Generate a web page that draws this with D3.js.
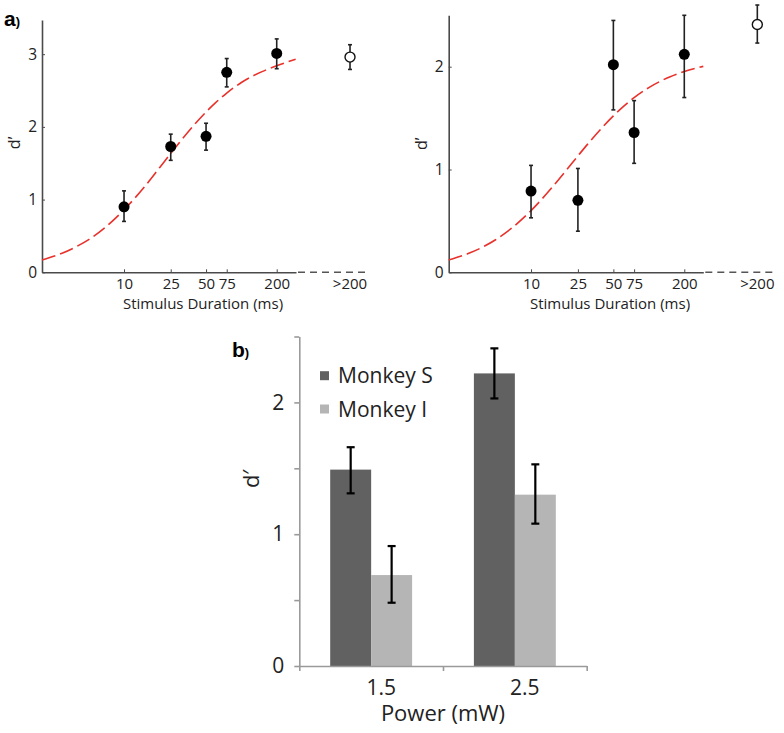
<!DOCTYPE html>
<html>
<head>
<meta charset="utf-8">
<script src="https://cdn.jsdelivr.net/npm/d3@7"></script>
<style>
  html, body { margin: 0; padding: 0; background: #fff; }
  svg { display: block; }
  text { font-family: "Open Sans", sans-serif; }
</style>
</head>
<body>
<svg id="chart" width="784" height="733"></svg>
<script>
// ---------------- DATA ----------------
const durations = [10, 25, 50, 75, 200];
const durationLabels = ["10", "25", "50", "75", "200"];
const overflowLabel = ">200";

// Panel a (left)
const dprimeLeft = [0.90, 1.73, 1.87, 2.75, 3.01];
const errLoLeft  = [0.70, 1.54, 1.68, 2.55, 2.80];
const errHiLeft  = [1.12, 1.90, 2.05, 2.94, 3.21];
const overLeft = [2.96];
const overLoLeft = [2.79];
const overHiLeft = [3.13];

// Panel a (right)
const dprimeRight = [0.79, 0.70, 2.02, 1.36, 2.12];
const errLoRight  = [0.53, 0.40, 1.58, 1.06, 1.70];
const errHiRight  = [1.04, 1.01, 2.45, 1.67, 2.50];
const overRight = [2.41];
const overLoRight = [2.23];
const overHiRight = [2.60];

// Fitted curves
const fitDurations = [2, 3, 4, 5, 7, 10, 15, 20, 25, 30, 40, 50, 60, 75, 100, 150, 200, 290];
const fitLeft  = [0.17, 0.265, 0.36, 0.45, 0.625, 0.86, 1.18, 1.435, 1.635, 1.795, 2.035, 2.205, 2.33, 2.465, 2.61, 2.76, 2.84, 2.93];
const fitRight = [0.12, 0.187, 0.253, 0.317, 0.438, 0.60, 0.822, 0.995, 1.132, 1.242, 1.406, 1.522, 1.607, 1.699, 1.797, 1.90, 1.953, 2.003];

const yTicksLeft = [0, 1, 2, 3];
const yTicksRight = [0, 1, 2];

// Panel b
const powers = ["1.5", "2.5"];
const seriesNames = ["Monkey S", "Monkey I"];
const monkeyS = [1.49, 2.22];
const monkeyI = [0.69, 1.30];
const monkeySLo = [1.31, 2.03];
const monkeySHi = [1.66, 2.41];
const monkeyILo = [0.48, 1.08];
const monkeyIHi = [0.91, 1.53];
const barTicks = [0, 0.5, 1, 1.5, 2, 2.5];
const barColors = ["#616161", "#b5b5b5"];

// ---------------- DRAW ----------------
const svg = d3.select("#chart");

function scatterPanel(cfg) {
  const x = d3.scaleLog().domain(cfg.xDomain).range(cfg.xRange);
  const y = d3.scaleLinear().domain(cfg.yDomain).range(cfg.yRange);
  const g = svg.append("g");
  const axisColor = "#4a4a4a";
  const textColor = "#222";
  const y0 = y(0);

  // x axis (ticks inward)
  const xa = g.append("g").attr("transform", `translate(0,${y0})`)
    .call(d3.axisBottom(x).tickValues(durations).tickFormat((d, i) => durationLabels[i])
      .tickSizeInner(-3).tickSizeOuter(0).tickPadding(6));
  xa.select(".domain").attr("stroke", axisColor).attr("stroke-width", 1.6);
  xa.selectAll(".tick line").attr("stroke", axisColor).attr("stroke-width", 1);
  xa.selectAll(".tick text").attr("fill", textColor).style("font-size", "15px");

  // dashed extension
  const xEnd = cfg.xRange[1];
  const extLen = 74;
  g.append("line").attr("x1", xEnd + 2).attr("x2", xEnd + extLen)
    .attr("y1", y0).attr("y2", y0)
    .attr("stroke", "#555").attr("stroke-width", 1.6).attr("stroke-dasharray", "7,5");
  const xOver = xEnd + extLen * 0.73;
  g.append("text").attr("x", xOver).attr("y", y0 + 6).attr("dy", "0.71em")
    .attr("text-anchor", "middle").attr("fill", textColor).style("font-size", "15px")
    .text(overflowLabel);

  // y axis (ticks inward)
  const ya = g.append("g").attr("transform", `translate(${cfg.xRange[0]},0)`)
    .call(d3.axisLeft(y).tickValues(cfg.yTicks).tickFormat(d3.format("d"))
      .tickSizeInner(-3).tickSizeOuter(0).tickPadding(5));
  ya.select(".domain").attr("stroke", axisColor).attr("stroke-width", 1.6);
  ya.selectAll(".tick line").attr("stroke", axisColor).attr("stroke-width", 1);
  ya.selectAll(".tick text").attr("fill", textColor).style("font-size", "15.5px");

  // axis titles
  g.append("text")
    .attr("x", (cfg.xRange[0] + cfg.xRange[1]) / 2 + 34).attr("y", y0 + 37)
    .attr("text-anchor", "middle").attr("fill", textColor).style("font-size", "15px")
    .text("Stimulus Duration (ms)");
  g.append("text")
    .attr("transform", `translate(${cfg.xRange[0] - 22},${y(cfg.yLabelAt)}) rotate(-90)`)
    .attr("text-anchor", "middle").attr("fill", textColor).style("font-size", "16px")
    .text("d\u2019");

  // fitted curve
  const line = d3.line().x((d, i) => x(fitDurations[i])).y(d => y(d)).curve(d3.curveMonotoneX);
  g.append("path").datum(cfg.fit).attr("d", line)
    .attr("fill", "none").attr("stroke", "#e8312b").attr("stroke-width", 1.6)
    .attr("stroke-dasharray", "14,5");

  // error bars
  const eb = g.append("g").attr("stroke", "#222").attr("stroke-width", 1.6);
  durations.forEach((d, i) => {
    const cx = x(d);
    eb.append("line").attr("x1", cx).attr("x2", cx).attr("y1", y(cfg.lo[i])).attr("y2", y(cfg.hi[i]));
    eb.append("line").attr("x1", cx - 2).attr("x2", cx + 2).attr("y1", y(cfg.lo[i])).attr("y2", y(cfg.lo[i]));
    eb.append("line").attr("x1", cx - 2).attr("x2", cx + 2).attr("y1", y(cfg.hi[i])).attr("y2", y(cfg.hi[i]));
  });
  cfg.over.forEach((v, i) => {
    eb.append("line").attr("x1", xOver).attr("x2", xOver).attr("y1", y(cfg.overLo[i])).attr("y2", y(cfg.overHi[i]));
    eb.append("line").attr("x1", xOver - 2).attr("x2", xOver + 2).attr("y1", y(cfg.overLo[i])).attr("y2", y(cfg.overLo[i]));
    eb.append("line").attr("x1", xOver - 2).attr("x2", xOver + 2).attr("y1", y(cfg.overHi[i])).attr("y2", y(cfg.overHi[i]));
  });

  // points
  g.selectAll("circle.pt").data(cfg.values).join("circle")
    .attr("class", "pt").attr("cx", (d, i) => x(durations[i])).attr("cy", d => y(d))
    .attr("r", 5.5).attr("fill", "#000");
  g.selectAll("circle.ov").data(cfg.over).join("circle")
    .attr("class", "ov").attr("cx", xOver).attr("cy", d => y(d))
    .attr("r", 5).attr("fill", "#fff").attr("stroke", "#111").attr("stroke-width", 1.4);
}

scatterPanel({
  xDomain: [2, 292], xRange: [42, 296],
  yDomain: [0, 3.47], yRange: [272.3, 20],
  yTicks: yTicksLeft, yLabelAt: 1.78,
  values: dprimeLeft, lo: errLoLeft, hi: errHiLeft,
  over: overLeft, overLo: overLoLeft, overHi: overHiLeft,
  fit: fitLeft
});
scatterPanel({
  xDomain: [2, 290], xRange: [448.7, 703.3],
  yDomain: [0, 2.5], yRange: [272.3, 15.3],
  yTicks: yTicksRight, yLabelAt: 1.25,
  values: dprimeRight, lo: errLoRight, hi: errHiRight,
  over: overRight, overLo: overLoRight, overHi: overHiRight,
  fit: fitRight
});

// panel label a)
const la = svg.append("text").attr("x", 4).attr("y", 26).attr("fill", "#000")
  .style("font-family", "Liberation Sans, Arial, sans-serif");
la.append("tspan").style("font-size", "21px").style("font-weight", "bold").text("a");
la.append("tspan").style("font-size", "13px").style("font-weight", "bold").text(")");

// ---------------- Bar panel ----------------
{
  const x0 = d3.scaleBand().domain(powers).range([299.3, 586.7]).paddingInner(0).paddingOuter(0);
  const groupW = x0.bandwidth() * 0.57;
  const x1 = d3.scaleBand().domain(seriesNames).range([0, groupW]);
  const y = d3.scaleLinear().domain([0, 2.5]).range([666, 336.5]);
  const g = svg.append("g");
  const axisColor = "#9a9a9a";
  const textColor = "#222";
  const seriesVals = [monkeyS, monkeyI];
  const seriesLo = [monkeySLo, monkeyILo];
  const seriesHi = [monkeySHi, monkeyIHi];

  // bars
  seriesNames.forEach((s, si) => {
    g.selectAll(`rect.s${si}`).data(seriesVals[si]).join("rect")
      .attr("class", `s${si}`)
      .attr("x", (d, i) => x0(powers[i]) + (x0.bandwidth() - groupW) / 2 + x1(s))
      .attr("y", d => y(d))
      .attr("width", x1.bandwidth())
      .attr("height", d => y(0) - y(d))
      .attr("fill", barColors[si]);
  });

  // y axis
  const ya = g.append("g").attr("transform", `translate(${x0.range()[0]},0)`)
    .call(d3.axisLeft(y).tickValues(barTicks)
      .tickFormat(d => Number.isInteger(d) ? d3.format("d")(d) : "")
      .tickSizeInner(5).tickSizeOuter(0).tickPadding(10));
  ya.select(".domain").attr("stroke", axisColor).attr("stroke-width", 1.6);
  ya.selectAll(".tick line").attr("stroke", axisColor).attr("stroke-width", 1.6);
  ya.selectAll(".tick text").attr("fill", textColor).style("font-size", "21px");

  // x axis: edge ticks via linear helper scale, labels via band scale
  const xEdge = d3.scaleLinear().domain([0, powers.length]).range(x0.range());
  const xa = g.append("g").attr("transform", `translate(0,${y(0)})`)
    .call(d3.axisBottom(xEdge).tickValues(d3.range(powers.length + 1)).tickFormat("")
      .tickSizeInner(5).tickSizeOuter(0));
  xa.select(".domain").attr("stroke", axisColor).attr("stroke-width", 1.6);
  xa.selectAll(".tick line").attr("stroke", axisColor).attr("stroke-width", 1.6);
  const xl = g.append("g").attr("transform", `translate(10,${y(0)})`)
    .call(d3.axisBottom(x0).tickSize(0).tickPadding(14));
  xl.select(".domain").remove();
  xl.selectAll(".tick text").attr("fill", textColor).style("font-size", "21px");

  // error bars
  const eb = g.append("g").attr("stroke", "#000").attr("stroke-width", 2.2);
  seriesNames.forEach((s, si) => {
    powers.forEach((p, i) => {
      const cx = x0(p) + (x0.bandwidth() - groupW) / 2 + x1(s) + x1.bandwidth() / 2;
      const lo = y(seriesLo[si][i]), hi = y(seriesHi[si][i]);
      eb.append("line").attr("x1", cx).attr("x2", cx).attr("y1", lo).attr("y2", hi);
      eb.append("line").attr("x1", cx - 4).attr("x2", cx + 4).attr("y1", lo).attr("y2", lo);
      eb.append("line").attr("x1", cx - 4).attr("x2", cx + 4).attr("y1", hi).attr("y2", hi);
    });
  });

  // titles
  g.append("text").attr("x", (x0.range()[0] + x0.range()[1]) / 2).attr("y", 721)
    .attr("text-anchor", "middle").attr("fill", textColor).style("font-size", "22px")
    .text("Power (mW)");
  g.append("text").attr("transform", `translate(259,${y(1.42)}) rotate(-90)`)
    .attr("text-anchor", "middle").attr("fill", textColor).style("font-size", "22px")
    .text("d\u2032");

  // legend
  const legendY = [375.7, 409];
  seriesNames.forEach((s, si) => {
    g.append("rect").attr("x", 320).attr("y", legendY[si] - 4.5).attr("width", 9).attr("height", 9)
      .attr("fill", barColors[si]);
    g.append("text").attr("x", 338).attr("y", legendY[si] + 7.5)
      .attr("fill", textColor).style("font-size", "21px").text(s);
  });

  // panel label b)
  const lb = svg.append("text").attr("x", 232).attr("y", 357).attr("fill", "#000")
    .style("font-family", "Liberation Sans, Arial, sans-serif");
  lb.append("tspan").style("font-size", "21px").style("font-weight", "bold").text("b");
  lb.append("tspan").style("font-size", "13px").style("font-weight", "bold").text(")");
}
</script>
</body>
</html>
